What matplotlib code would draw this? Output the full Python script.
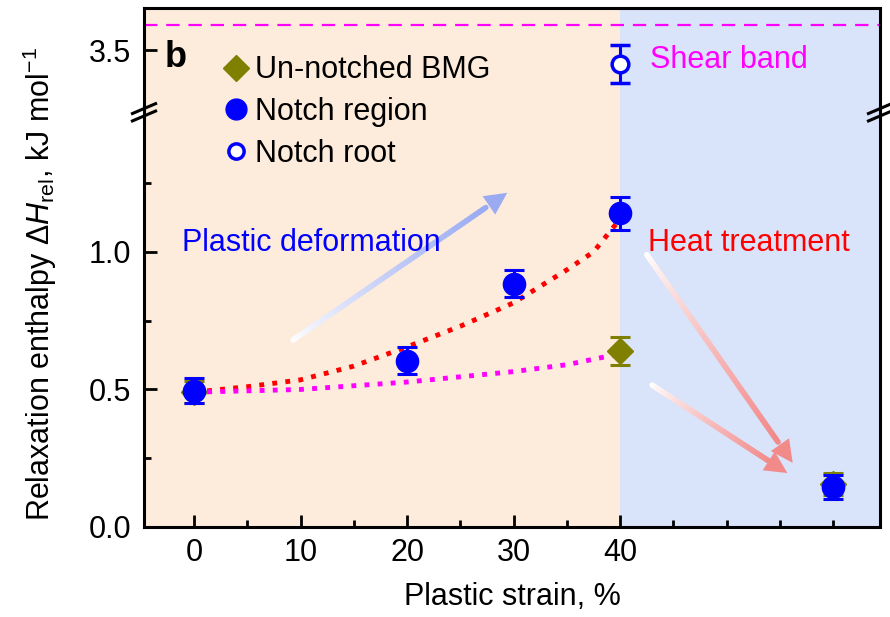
import numpy as np
import matplotlib
matplotlib.use("Agg")
import matplotlib.pyplot as plt
from matplotlib.collections import LineCollection
from matplotlib.lines import Line2D
from matplotlib.colors import to_rgba

plt.rcParams['font.family'] = ['Liberation Sans', 'DejaVu Sans']
plt.rcParams['mathtext.fontset'] = 'custom'
plt.rcParams['mathtext.rm'] = 'Liberation Sans'
plt.rcParams['mathtext.it'] = 'Liberation Sans:italic'

# Data
strain_region = [0, 20, 30, 40, 60]
enthalpy_region = [0.495, 0.605, 0.885, 1.14, 0.145]
err_region = [0.045, 0.05, 0.05, 0.06, 0.045]

strain_unnotched = [0, 40, 60]
enthalpy_unnotched = [0.49, 0.64, 0.155]
err_unnotched = [0.04, 0.05, 0.04]

strain_root = [40]
enthalpy_root = [3.45]
err_root = [0.07]

shear_band_level = 3.59

# dotted guide curves
fit_x_region = [0, 5, 10, 15, 20, 25, 30, 35, 37.5, 40]
fit_y_region = [0.49, 0.51, 0.535, 0.585, 0.655, 0.73, 0.815, 0.935, 1.0, 1.12]
fit_x_unnotched = [0, 10, 20, 30, 35, 40]
fit_y_unnotched = [0.49, 0.50, 0.527, 0.565, 0.59, 0.63]

xticks = [0, 10, 20, 30, 40]

PEACH = '#fdebdb'
LBLUE = '#d9e3fa'
BLUE = '#0000ff'
OLIVE = '#808000'
MAGENTA = '#ff00ff'
RED = '#ff0000'

XLIM = (-4.7, 64.4)
FS = 22

fig = plt.figure(figsize=(8.9, 6.17), dpi=100)
ax = fig.add_axes([0.1618, 0.1459, 0.827, 0.6807])
ax_top = fig.add_axes([0.1618, 0.8266, 0.827, 0.1604])

for a in (ax, ax_top):
    a.set_xlim(*XLIM)
    a.axvspan(XLIM[0], 40, color=PEACH, lw=0, zorder=0)
    a.axvspan(40, XLIM[1], color=LBLUE, lw=0, zorder=0)
    for s in a.spines.values():
        s.set_linewidth(2.2)
    a.tick_params(which='both', direction='in', width=2, right=False, top=False)
    a.tick_params(which='major', length=9)
    a.tick_params(which='minor', length=5)

ax.set_ylim(0, 1.527)
ax_top.set_ylim(3.293, 3.653)
ax.spines['top'].set_visible(False)
ax_top.spines['bottom'].set_visible(False)

ax.set_yticks([0, 0.5, 1.0])
ax.set_yticklabels(['0.0', '0.5', '1.0'])
ax.set_yticks([0.25, 0.75, 1.25], minor=True)
ax.set_xticks(xticks)
ax.set_xticks([5, 15, 25, 35, 45, 50, 55, 60], minor=True)
ax.tick_params(axis='both', which='major', labelsize=FS)
ax.tick_params(axis='y', pad=9)
ax.tick_params(axis='x', pad=8)

ax_top.set_yticks([3.5])
ax_top.set_yticklabels(['3.5'])
ax_top.tick_params(axis='y', labelsize=FS, pad=9)
ax_top.set_xticks([])

# guide curves
ax.plot(fit_x_region, fit_y_region, linestyle=(0, (1, 1.7)), color=RED, lw=3.5, zorder=2)
ax.plot(fit_x_unnotched, fit_y_unnotched, linestyle=(0, (1, 1.7)), color=MAGENTA, lw=3.5, zorder=2)

# data
ax.errorbar(strain_unnotched, enthalpy_unnotched, yerr=err_unnotched, fmt='D', color=OLIVE,
            ms=13, capsize=7, elinewidth=2.2, capthick=2.2, zorder=3)
ax.errorbar(strain_region, enthalpy_region, yerr=err_region, fmt='o', color=BLUE,
            ms=16, capsize=7, elinewidth=2.2, capthick=2.2, zorder=4)
ax_top.errorbar(strain_root, enthalpy_root, yerr=err_root, fmt='o', color=BLUE, mfc='white',
                mew=2.5, ms=12, capsize=7, elinewidth=2.2, capthick=2.2, zorder=4)

ax_top.axhline(shear_band_level, color=MAGENTA, lw=1.6, dashes=(6, 4), zorder=2)


def gradient_arrow(a, start, end, color, lw=4, head=40):
    c1 = np.array(to_rgba(color))
    c0 = np.array([1, 1, 1, 1.0])
    n = 60
    t = np.linspace(0, 0.9, n + 1)
    xs = start[0] + (end[0] - start[0]) * t
    ys = start[1] + (end[1] - start[1]) * t
    segs = [[(xs[i], ys[i]), (xs[i + 1], ys[i + 1])] for i in range(n)]
    cols = [c0 + (c1 - c0) * (i / (n - 1)) ** 0.8 for i in range(n)]
    a.add_collection(LineCollection(segs, colors=cols, linewidths=lw, capstyle='round', zorder=2))
    a.annotate('', xy=end, xytext=(xs[-4], ys[-4]),
               arrowprops=dict(arrowstyle='-|>', mutation_scale=head, color=color, lw=0,
                               shrinkA=0, shrinkB=0), zorder=2)


gradient_arrow(ax, (9.3, 0.68), (29.4, 1.215), '#9aabf2')
gradient_arrow(ax, (42.5, 0.99), (56.2, 0.233), '#f28a8a')
gradient_arrow(ax, (43.0, 0.516), (55.7, 0.196), '#f28a8a')

# texts
ax.text(-1.1, 1.033, 'Plastic deformation', color=BLUE, fontsize=FS, va='center', ha='left')
ax.text(42.6, 1.033, 'Heat treatment', color=RED, fontsize=FS, va='center', ha='left')
ax_top.text(42.8, 3.464, 'Shear band', color=MAGENTA, fontsize=FS, va='center', ha='left')
ax_top.text(0.028, 0.50, 'b', transform=ax_top.transAxes, fontsize=26, fontweight='bold',
            va='center', ha='left')

ax.set_xlabel('Plastic strain, %', fontsize=FS, labelpad=10)
fig.text(0.045, 0.540, r'Relaxation enthalpy $\Delta\mathit{H}_{\rm rel}$, kJ mol$^{-1}$',
         rotation=90, fontsize=FS, va='center', ha='center')

# legend
handles = [
    Line2D([], [], marker='D', color=OLIVE, ls='', ms=13),
    Line2D([], [], marker='o', color=BLUE, ls='', ms=15),
    Line2D([], [], marker='o', color=BLUE, mfc='white', mew=2.5, ls='', ms=11),
]
labels = ['Un-notched BMG', 'Notch region', 'Notch root']
fig.legend(handles, labels, loc='upper left', bbox_to_anchor=(0.232, 0.93), frameon=False,
           fontsize=FS, handletextpad=0.1, labelspacing=0.38, handlelength=1.1,
           borderaxespad=0)

# axis break marks
for xb in (0.1618, 0.9888):
    for yb in (0.824, 0.812):
        fig.add_artist(Line2D([xb - 0.013, xb + 0.013], [yb - 0.008, yb + 0.008],
                              color='black', lw=2.2, transform=fig.transFigure))

fig.savefig('out.png', dpi=100)
